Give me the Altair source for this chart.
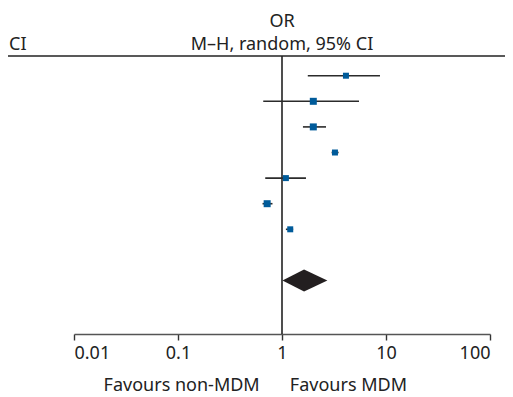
import altair as alt
import pandas as pd

# ---- data ----
study_rows = [1, 2, 3, 4, 5, 6, 7]
or_est = [4.12, 2.00, 2.00, 3.23, 1.09, 0.72, 1.20]
ci_low = [1.77, 0.66, 1.59, 3.00, 0.69, 0.65, 1.09]
ci_high = [8.75, 5.50, 2.65, 3.50, 1.70, 0.81, 1.28]
weights = [12.0, 15.5, 15.5, 12.0, 12.0, 15.5, 12.0]

pooled_row = 9
pooled_est = 1.63
pooled_low = 1.01
pooled_high = 2.73

tick_values = [0.01, 0.1, 1, 10, 100]
header_lines = ["OR", "M\u2013H, random, 95% CI"]
left_header = "CI"
favours_left = "Favours non-MDM"
favours_right = "Favours MDM"

FONT = "Noto Sans"
W, H = 416, 278

studies = pd.DataFrame({
    "row": study_rows, "or": or_est, "lo": ci_low, "hi": ci_high, "w": weights
})

half = 0.43
diamond = pd.DataFrame({
    "x": [pooled_low, pooled_est, pooled_high],
    "y": [pooled_row, pooled_row - half, pooled_row],
    "y2": [pooled_row, pooled_row + half, pooled_row],
})

xscale = alt.Scale(type="log", domain=[0.01, 100], nice=False)
yscale = alt.Scale(domain=[0.23, 11.09], reverse=True, nice=False, zero=False)

base = alt.Chart(studies)

xaxis = alt.Axis(
    values=tick_values, format="~g", grid=False, title=None,
    domainColor="#555555", domainWidth=1.4, tickColor="#333333",
    tickWidth=1.4, tickSize=6, labelFontSize=18, labelColor="#222222",
    labelFont=FONT, labelPadding=4,
)

ci = base.mark_rule(color="#2b2b2b", strokeWidth=1.6).encode(
    x=alt.X("lo:Q", scale=xscale, axis=xaxis),
    x2="hi:Q",
    y=alt.Y("row:Q", scale=yscale, axis=None),
)

squares = base.mark_square(color="#005b9a", opacity=1).encode(
    x=alt.X("or:Q", scale=xscale, axis=xaxis),
    y=alt.Y("row:Q", scale=yscale, axis=None),
    size=alt.Size("w:Q", scale=alt.Scale(domain=[12, 15.5], range=[36, 49]), legend=None),
)

dia = alt.Chart(diamond).mark_area(color="#231f20", orient="vertical", opacity=1).encode(
    x=alt.X("x:Q", scale=xscale, axis=xaxis),
    y=alt.Y("y:Q", scale=yscale, axis=None),
    y2="y2:Q",
)

null_line = alt.Chart(pd.DataFrame({"v": [1]})).mark_rule(
    color="#222222", strokeWidth=1.6
).encode(x=alt.X("v:Q", scale=xscale, axis=xaxis))

top_rule = alt.Chart(pd.DataFrame({"v": [0]})).mark_rule(
    color="#222222", strokeWidth=1.4
).encode(x=alt.value(-66), x2=alt.value(W + 20), y=alt.value(0))

header1 = alt.Chart(pd.DataFrame({"t": [header_lines[0]], "x": [1]})).mark_text(
    font=FONT, fontSize=18, color="#222222", align="center", baseline="alphabetic"
).encode(x=alt.X("x:Q", scale=xscale, axis=xaxis), y=alt.value(-29), text="t:N")
header2 = alt.Chart(pd.DataFrame({"t": [header_lines[1]], "x": [1]})).mark_text(
    font=FONT, fontSize=18, color="#222222", align="center", baseline="alphabetic"
).encode(x=alt.X("x:Q", scale=xscale, axis=xaxis), y=alt.value(-6), text="t:N")
header_left = alt.Chart(pd.DataFrame({"t": [left_header]})).mark_text(
    font=FONT, fontSize=18, color="#222222", align="left", baseline="alphabetic"
).encode(x=alt.value(-65), y=alt.value(-6), text="t:N")

fav_l = alt.Chart(pd.DataFrame({"t": [favours_left], "x": [0.61]})).mark_text(
    font=FONT, fontSize=18, color="#222222", align="right", baseline="alphabetic"
).encode(x=alt.X("x:Q", scale=xscale, axis=xaxis), y=alt.value(H + 57), text="t:N")
fav_r = alt.Chart(pd.DataFrame({"t": [favours_right], "x": [1.19]})).mark_text(
    font=FONT, fontSize=18, color="#222222", align="left", baseline="alphabetic"
).encode(x=alt.X("x:Q", scale=xscale, axis=xaxis), y=alt.value(H + 57), text="t:N")

chart = alt.layer(
    top_rule, null_line, ci, squares, dia, header1, header2, header_left, fav_l, fav_r
).properties(
    width=W, height=H,
    autosize=alt.AutoSizeParams(type="none"),
    padding={"left": 66, "top": 48, "right": 15, "bottom": 66},
).configure(font=FONT).configure_view(stroke=None).configure_axis(grid=False)

chart.save("out.html", embed_options={"renderer": "svg", "actions": False})
